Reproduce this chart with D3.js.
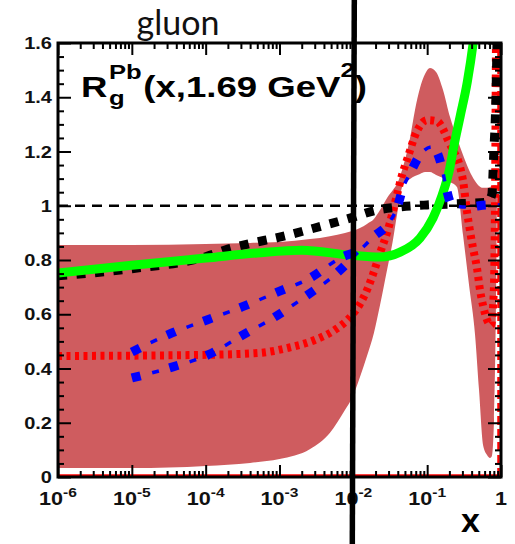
<!DOCTYPE html>
<html><head><meta charset="utf-8">
<script src="https://cdn.jsdelivr.net/npm/d3@7"></script>
<style>body{margin:0;background:#fff}</style>
</head><body>
<svg id="c" width="515" height="544" xmlns="http://www.w3.org/2000/svg"></svg>
<script>
// ---- tick values / labels ----
const majorX = [1e-6, 1e-5, 1e-4, 1e-3, 1e-2, 1e-1, 1];
const xTickBase = ["10", "10", "10", "10", "10", "10", "1"];
const xTickExp = ["-6", "-5", "-4", "-3", "-2", "-1", ""];
const yTicks = [0, 0.2, 0.4, 0.6, 0.8, 1.0, 1.2, 1.4, 1.6];
const yTickLabels = ["0", "0.2", "0.4", "0.6", "0.8", "1", "1.2", "1.4", "1.6"];

// ---- error band ----
const bandX = [1e-6, 1e-5, 1e-4, 4e-4, 1e-3, 2.6e-3, 4.8e-3, 7.7e-3, 9.6e-3, 1.23e-2, 1.53e-2, 1.9e-2, 2.3e-2, 2.86e-2, 3.44e-2, 3.9e-2, 4.7e-2, 5.86e-2, 6.84e-2, 0.08, 0.0935, 0.109, 0.132, 0.164, 0.204, 0.253, 0.306, 0.369, 0.445, 0.504, 0.571, 0.647, 0.71, 0.755, 0.804, 0.856, 0.883];
const bandHigh = [0.855, 0.855, 0.859, 0.863, 0.866, 0.877, 0.888, 0.900, 0.907, 0.918, 0.933, 0.951, 0.984, 1.029, 1.058, 1.080, 1.143, 1.250, 1.353, 1.434, 1.486, 1.508, 1.493, 1.427, 1.327, 1.250, 1.187, 1.132, 1.091, 1.073, 1.066, 1.066, 1.069, 1.073, 1.076, 1.076, 1.073];
const bandLow = [0.033, 0.033, 0.041, 0.052, 0.066, 0.103, 0.162, 0.247, 0.291, 0.369, 0.446, 0.531, 0.634, 0.763, 0.874, 0.966, 1.077, 1.099, 1.110, 1.117, 1.124, 1.124, 1.113, 1.102, 1.088, 1.069, 0.892, 0.708, 0.524, 0.321, 0.118, 0.081, 0.070, 0.077, 0.210, 0.653, 1.073];

// ---- curves ----
const redX = [1e-6, 8.4e-5, 5.1e-4, 1.3e-3, 3.0e-3, 5.6e-3, 9.6e-3, 1.23e-2, 1.53e-2, 1.85e-2, 2.3e-2, 2.86e-2, 3.9e-2, 4.56e-2, 5.33e-2, 7.3e-2, 0.0995, 0.136, 0.164, 0.191, 0.224, 0.279, 0.305, 0.347, 0.418, 0.473, 0.52, 0.57, 0.647, 0.733, 0.80, 0.83, 0.855, 0.862];
const redY = [0.446, 0.450, 0.457, 0.476, 0.505, 0.542, 0.597, 0.638, 0.689, 0.748, 0.826, 0.900, 1.040, 1.113, 1.169, 1.276, 1.316, 1.312, 1.283, 1.242, 1.205, 1.143, 1.095, 0.977, 0.844, 0.770, 0.689, 0.634, 0.579, 0.560, 0.69, 1.02, 1.6, 1.76];

const blackX = [1e-6, 1e-5, 1e-4, 2e-4, 4e-4, 1e-3, 3e-3, 1e-2, 2e-2, 4e-2, 0.1, 0.3, 0.65, 0.75, 0.8, 0.85, 0.88, 0.9];
const blackY = [0.742, 0.768, 0.812, 0.840, 0.861, 0.884, 0.918, 0.958, 0.983, 0.995, 1.003, 1.008, 1.013, 1.04, 1.2, 1.38, 1.58, 1.75];

const greenX = [1e-6, 1e-5, 1e-4, 5e-4, 2e-3, 9e-3, 2.3e-2, 4.3e-2, 8e-2, 0.12, 0.16, 0.2, 0.23, 0.28, 0.35, 0.42, 0.46];
const greenY = [0.752, 0.781, 0.807, 0.826, 0.836, 0.818, 0.811, 0.829, 0.881, 0.955, 1.04, 1.132, 1.22, 1.33, 1.457, 1.60, 1.69];

const blueAX = [1e-5, 3.5e-5, 1.04e-4, 3.1e-4, 8.7e-4, 2.6e-3, 6.6e-3, 1.31e-2, 1.85e-2, 3.1e-2, 3.9e-2, 4.7e-2, 5.9e-2, 8.0e-2, 0.116, 0.159, 0.175, 0.217, 0.347, 0.667, 1];
const blueAY = [0.461, 0.531, 0.579, 0.627, 0.678, 0.734, 0.807, 0.844, 0.885, 0.940, 0.992, 1.065, 1.121, 1.187, 1.217, 1.139, 1.084, 1.003, 0.995, 1.003, 1.003];
const blueBX = [1e-5, 3.6e-5, 1.07e-4, 3.2e-4, 8.2e-4, 2.2e-3, 5.6e-3, 1.31e-2];
const blueBY = [0.365, 0.406, 0.450, 0.524, 0.586, 0.664, 0.745, 0.844];

// ---- drawing ----
const svg = d3.select("#c");
const x = d3.scaleLog().domain([1e-6, 1]).range([58, 501]);
const y = d3.scaleLinear().domain([0, 1.6]).range([477, 43]);
const FONT = "'Liberation Sans', Arial, Helvetica, sans-serif";

svg.append("rect").attr("width", 515).attr("height", 544).attr("fill", "#fff");
svg.append("defs").append("clipPath").attr("id", "clip")
  .append("rect").attr("x", x(1e-6)).attr("y", y(1.6))
  .attr("width", x(1) - x(1e-6)).attr("height", y(0) - y(1.6));

const plot = svg.append("g").attr("clip-path", "url(#clip)");

const band = bandX.map((v, i) => ({x: v, lo: bandLow[i], hi: bandHigh[i]}));
plot.append("path").datum(band)
  .attr("d", d3.area().x(d => x(d.x)).y0(d => y(d.lo)).y1(d => y(d.hi)).curve(d3.curveMonotoneX))
  .attr("fill", "#cf5c5f");

// thin red lines along bottom and right edge
plot.append("line").attr("x1", x(1e-6)).attr("x2", x(1)).attr("y1", y(0.006)).attr("y2", y(0.006))
  .attr("stroke", "#ff0000").attr("stroke-width", 2);
plot.append("line").attr("x1", x(0.925)).attr("x2", x(0.925)).attr("y1", y(0)).attr("y2", y(1.6))
  .attr("stroke", "#ff0000").attr("stroke-width", 2.5).attr("stroke-dasharray", "9,4");

// unity dashed line
plot.append("line").attr("x1", x(1e-6)).attr("x2", x(1)).attr("y1", y(1)).attr("y2", y(1))
  .attr("stroke", "#000").attr("stroke-width", 2.5).attr("stroke-dasharray", "10,7");

const line = d3.line().x(d => x(d[0])).y(d => y(d[1])).curve(d3.curveMonotoneX);
const zip = (a, b) => a.map((v, i) => [v, b[i]]);

plot.append("path").attr("d", line(zip(redX, redY))).attr("fill", "none")
  .attr("stroke", "#ff0000").attr("stroke-width", 8).attr("stroke-dasharray", "4,4.5");
plot.append("path").attr("d", line(zip(blackX, blackY))).attr("fill", "none")
  .attr("stroke", "#000").attr("stroke-width", 9).attr("stroke-dasharray", "9,9.5");
plot.append("path").attr("d", line(zip(greenX, greenY))).attr("fill", "none")
  .attr("stroke", "#00ff00").attr("stroke-width", 9);

[zip(blueAX, blueAY), zip(blueBX, blueBY)].forEach(pts => {
  const d = line(pts);
  plot.append("path").attr("d", d).attr("fill", "none")
    .attr("stroke", "#0000ff").attr("stroke-width", 9).attr("stroke-dasharray", "9,30");
  plot.append("path").attr("d", d).attr("fill", "none")
    .attr("stroke", "#0000ff").attr("stroke-width", 3.5).attr("stroke-dasharray", "0,21,7,11");
});

// ---- axes ----
const minorX = [];
majorX.slice(0, -1).forEach(d => { for (let k = 2; k <= 9; k++) minorX.push(k * d); });
const minorY = d3.range(0, 1.6001, 0.05).filter(v => Math.abs(v * 5 - Math.round(v * 5)) > 1e-6);

function axisG(gen, tr) {
  const g = svg.append("g").attr("transform", tr).call(gen);
  g.select(".domain").remove();
  g.selectAll(".tick line").attr("stroke", "#000").attr("stroke-width", 2);
  g.selectAll(".tick text").remove();
  return g;
}
const bY = `translate(0,${y(0)})`, tY = `translate(0,${y(1.6)})`;
const lX = `translate(${x(1e-6)},0)`, rX = `translate(${x(1)},0)`;
axisG(d3.axisBottom(x).tickValues(majorX).tickSize(-12).tickFormat(""), bY);
axisG(d3.axisBottom(x).tickValues(minorX).tickSize(-6).tickFormat(""), bY);
axisG(d3.axisTop(x).tickValues(majorX).tickSize(-12).tickFormat(""), tY);
axisG(d3.axisTop(x).tickValues(minorX).tickSize(-6).tickFormat(""), tY);
axisG(d3.axisLeft(y).tickValues(yTicks).tickSize(-13).tickFormat(""), lX);
axisG(d3.axisLeft(y).tickValues(minorY).tickSize(-6).tickFormat(""), lX);
axisG(d3.axisRight(y).tickValues(yTicks).tickSize(-13).tickFormat(""), rX);
axisG(d3.axisRight(y).tickValues(minorY).tickSize(-6).tickFormat(""), rX);

svg.append("rect").attr("x", x(1e-6)).attr("y", y(1.6))
  .attr("width", x(1) - x(1e-6)).attr("height", y(0) - y(1.6))
  .attr("fill", "none").attr("stroke", "#000").attr("stroke-width", 3);

// x tick labels
svg.append("g").selectAll("g").data(majorX).join("g")
  .attr("transform", d => `translate(${x(d)},505) scale(1.2,1)`)
  .each(function (d, i) {
    const t = d3.select(this).append("text").attr("text-anchor", "middle")
      .attr("font-family", FONT).attr("font-weight", "bold").attr("font-size", 18).attr("fill", "#111");
    t.append("tspan").text(xTickBase[i]);
    if (xTickExp[i]) t.append("tspan").attr("font-size", 13).attr("dy", -8).text(xTickExp[i]);
  });

// y tick labels
svg.append("g").selectAll("text").data(yTicks).join("text")
  .attr("transform", d => `translate(52,${y(d) + 6}) scale(1.25,1)`)
  .attr("text-anchor", "end").attr("font-family", FONT).attr("font-weight", "bold")
  .attr("font-size", 16).attr("fill", "#111")
  .text((d, i) => yTickLabels[i]);

// axis title
svg.append("text").attr("x", 480).attr("y", 532).attr("text-anchor", "end")
  .attr("font-family", FONT).attr("font-weight", "bold").attr("font-size", 34).text("x");

// panel label
const lab = svg.append("g").attr("transform", "translate(81,97) scale(1.22,1)")
  .append("text").attr("font-family", FONT).attr("font-weight", "bold").attr("font-size", 30).attr("fill", "#000");
lab.append("tspan").attr("x", 0).text("R");
lab.append("tspan").attr("x", 23).attr("dy", 8).attr("font-size", 21).text("g");
lab.append("tspan").attr("x", 23).attr("dy", -26).attr("font-size", 21).text("Pb");
lab.append("tspan").attr("x", 51).attr("dy", 18).text("(x,1.69 GeV");
lab.append("tspan").attr("dy", -20).attr("font-size", 21).text("2");
lab.append("tspan").attr("dy", 20).text(")");

// slide title
svg.append("text").attr("x", 178).attr("y", 35).attr("text-anchor", "middle")
  .attr("font-family", "Lato, 'Open Sans', sans-serif").attr("font-size", 34).attr("fill", "#111").text("gluon");

// vertical divider line
svg.append("line").attr("x1", 354.3).attr("y1", 0).attr("x2", 352.3).attr("y2", 544)
  .attr("stroke", "#000").attr("stroke-width", 5.5);
</script>
</body></html>
